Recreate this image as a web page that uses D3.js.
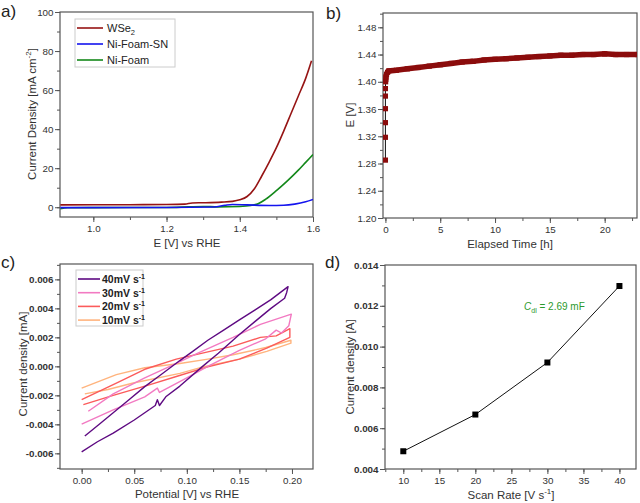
<!DOCTYPE html>
<html><head><meta charset="utf-8">
<script src="https://cdn.jsdelivr.net/npm/d3@7"></script>
<style>body{margin:0;background:#fff}svg{display:block}text{font-family:"Liberation Sans",Arial,sans-serif}</style>
</head><body><svg id="c" width="640" height="503"></svg>
<script>
// ---------- DATA ----------
// Panel a: LSV curves  [E (V vs RHE), J (mA cm^-2)]
const aSeriesNames = ["WSe2", "Ni-Foam-SN", "Ni-Foam"];
const aWSe2 = [[0.91,1.2],[1.0,1.3],[1.1,1.3],[1.2,1.4],[1.25,1.6],[1.27,2.2],[1.3,2.3],[1.35,2.6],[1.38,3.0],[1.40,3.8],[1.42,5.5],[1.44,9.5],[1.46,16],[1.48,23],[1.50,30.5],[1.52,39],[1.54,48],[1.56,57],[1.58,66],[1.596,75]];
const aNiFoamSN = [[0.91,-0.2],[1.2,-0.1],[1.33,0.1],[1.36,1.0],[1.38,1.4],[1.42,1.2],[1.48,0.9],[1.52,1.0],[1.55,1.6],[1.58,2.8],[1.60,4.0]];
const aNiFoam = [[0.91,-0.8],[0.93,-0.3],[1.0,-0.2],[1.2,-0.1],[1.26,0.2],[1.3,0.4],[1.34,0.2],[1.40,0.4],[1.43,0.9],[1.45,1.8],[1.47,4],[1.50,8.5],[1.53,13.5],[1.56,19],[1.58,23],[1.60,27]];
const aXTicks = [1.0,1.2,1.4,1.6];
const aYTicks = [0,20,40,60,80,100];

// Panel b: chronopotentiometry
const bTime = [0,0,0,0,0,0,0.02,0.05,0.1,0.2,0.3,1,2,3,4,5,6,7,8,9,10,11,12,13,14,15,16,17,18,19,20,21,22,23];
const bE = [1.285,1.3185,1.34,1.3605,1.379,1.39,1.40,1.407,1.411,1.414,1.416,1.417,1.419,1.421,1.423,1.425,1.427,1.429,1.430,1.432,1.433,1.434,1.435,1.436,1.437,1.438,1.439,1.439,1.440,1.440,1.441,1.440,1.440,1.440];
const bXTicks = [0,5,10,15,20];
const bYTicks = [1.20,1.24,1.28,1.32,1.36,1.40,1.44,1.48];

// Panel c: CV loops [V, mA]
const cLabels = ["40mV s", "30mV s", "20mV s", "10mV s"];
const c40 = [[0.003,-0.0048],[0.015,-0.0041],[0.03,-0.0032],[0.045,-0.0023],[0.06,-0.0014],[0.075,-0.0006],[0.0934,0.0004],[0.105,0.0010],[0.12,0.0018],[0.135,0.0025],[0.15,0.0032],[0.165,0.0039],[0.18,0.0046],[0.1963,0.0055],[0.195,0.0051],[0.193,0.0047],[0.18,0.0040],[0.165,0.0031],[0.15,0.0022],[0.13,0.0009],[0.115,0.0],[0.0934,-0.00136],[0.08,-0.0021],[0.074,-0.0027],[0.072,-0.0023],[0.07,-0.0027],[0.05,-0.0037],[0.03,-0.0046],[0.015,-0.0052],[0.0,-0.0059]];
const c30 = [[0.0063,-0.0031],[0.03,-0.0019],[0.06,-0.0008],[0.087,0.0001],[0.11,0.0009],[0.144,0.0020],[0.17,0.0029],[0.1994,0.0036],[0.197,0.0028],[0.19,0.0023],[0.185,0.0025],[0.175,0.0019],[0.15,0.0011],[0.12,0.0],[0.10,-0.0008],[0.074,-0.0018],[0.072,-0.0015],[0.06,-0.0021],[0.03,-0.0030],[0.0,-0.00398]];
const c20 = [[0.0,-0.0023],[0.033,-0.00115],[0.06,-0.0002],[0.09,0.0005],[0.12,0.0010],[0.144,0.0014],[0.17,0.0020],[0.185,0.0021],[0.198,0.0026],[0.198,0.0020],[0.176,0.00126],[0.15,0.0005],[0.119,-0.00005],[0.09,-0.0007],[0.065,-0.00126],[0.03,-0.0020],[0.0016,-0.00264]];
const c10 = [[0.0,-0.0015],[0.033,-0.00057],[0.06,-0.0001],[0.0934,0.0002],[0.12,0.0005],[0.144,0.0008],[0.175,0.0013],[0.199,0.0018],[0.199,0.0016],[0.176,0.00103],[0.15,0.0005],[0.112,-0.0001],[0.0934,-0.00048],[0.049,-0.00115],[0.025,-0.0016],[0.003,-0.0019]];
const cXTicks = [0.00,0.05,0.10,0.15,0.20];
const cYTicks = [-0.006,-0.004,-0.002,0.000,0.002,0.004,0.006];

// Panel d: double-layer capacitance
const dRate = [10,20,30,40];
const dJ = [0.00487,0.00667,0.00922,0.01297];
const dXTicks = [10,15,20,25,30,35,40];
const dYTicks = [0.004,0.006,0.008,0.010,0.012,0.014];

// ---------- DRAWING ----------
const svg = d3.select("#c");
const fixMinus = f => v => f(v).replace("\u2212","-");
let clipId = 0;

function panel(o) {
  const x = d3.scaleLinear().domain(o.xd).range([o.l, o.r]);
  const y = d3.scaleLinear().domain(o.yd).range([o.b, o.t]);
  const g = svg.append("g");
  const minorX = d3.range(Math.ceil(o.xd[0] / o.xMinorStep) * o.xMinorStep, o.xd[1] + 1e-9, o.xMinorStep)
    .filter(v => v >= o.xd[0] && v <= o.xd[1]);
  const minorY = d3.range(Math.ceil(o.yd[0] / o.yMinorStep) * o.yMinorStep, o.yd[1] + 1e-9, o.yMinorStep)
    .filter(v => v >= o.yd[0] - 1e-12 && v <= o.yd[1] + 1e-12);
  g.append("g").attr("transform", `translate(0,${o.b})`)
    .call(d3.axisBottom(x).tickValues(minorX).tickSize(3).tickFormat(""))
    .call(s => s.select(".domain").remove());
  g.append("g").attr("transform", `translate(${o.l},0)`)
    .call(d3.axisLeft(y).tickValues(minorY).tickSize(3).tickFormat(""))
    .call(s => s.select(".domain").remove());
  const ax = g.append("g").attr("transform", `translate(0,${o.b})`)
    .call(d3.axisBottom(x).tickValues(o.xTicks).tickSize(5).tickPadding(3).tickFormat(fixMinus(d3.format(o.xFmt))));
  const ay = g.append("g").attr("transform", `translate(${o.l},0)`)
    .call(d3.axisLeft(y).tickValues(o.yTicks).tickSize(5).tickPadding(1.5).tickFormat(fixMinus(d3.format(o.yFmt))));
  [ax, ay].forEach(a => { a.select(".domain").remove(); });
  g.selectAll(".tick line").attr("stroke", "#555");
  ax.selectAll("text").attr("font-size", 9.8).attr("fill", "#333").attr("font-family", "Liberation Sans, Arial");
  ay.selectAll("text").attr("font-size", 9.8).attr("fill", "#333").attr("font-family", "Liberation Sans, Arial")
    .attr("font-weight", o.yBold ? "bold" : "normal");
  g.append("rect").attr("x", o.l).attr("y", o.t).attr("width", o.r - o.l).attr("height", o.b - o.t)
    .attr("fill", "none").attr("stroke", "#555").attr("stroke-width", 1.2);
  const id = "clip" + (clipId++);
  svg.append("clipPath").attr("id", id).append("rect")
    .attr("x", o.l).attr("y", o.t).attr("width", o.r - o.l).attr("height", o.b - o.t);
  const plot = svg.append("g").attr("clip-path", `url(#${id})`);
  return {x, y, plot, g};
}

function label(txt, x, y) {
  svg.append("text").attr("x", x).attr("y", y).attr("font-size", 17).attr("fill", "#222").text(txt);
}
function xTitle(x, y, build) {
  const t = svg.append("text").attr("x", x).attr("y", y).attr("text-anchor", "middle")
    .attr("font-size", 11.5).attr("fill", "#333");
  build(t);
}
function yTitle(x, y, build) {
  const t = svg.append("text").attr("transform", `translate(${x},${y}) rotate(-90)`).attr("text-anchor", "middle")
    .attr("font-size", 11.5).attr("fill", "#333");
  build(t);
}

// ===== Panel a =====
{
  const P = panel({l:60, t:12, r:313, b:217, xd:[0.909,1.6], yd:[-5,100], xTicks:aXTicks, yTicks:aYTicks,
    xMinorStep:0.1, yMinorStep:10, xFmt:".1f", yFmt:"d"});
  const line = d3.line().x(d => P.x(d[0])).y(d => P.y(d[1])).curve(d3.curveMonotoneX);
  const series = [[aNiFoam, "#13881a"], [aNiFoamSN, "#1414ee"], [aWSe2, "#961414"]];
  series.forEach(([d, c]) => P.plot.append("path").attr("d", line(d)).attr("fill", "none").attr("stroke", c).attr("stroke-width", 1.6));
  const lg = svg.append("g");
  lg.append("rect").attr("x", 75).attr("y", 19).attr("width", 100).attr("height", 48).attr("fill", "#fff").attr("stroke", "#ccc");
  const cols = ["#961414", "#1414ee", "#13881a"];
  aSeriesNames.forEach((n, i) => {
    const yy = 28 + i * 16;
    lg.append("line").attr("x1", 77).attr("x2", 103).attr("y1", yy).attr("y2", yy).attr("stroke", cols[i]).attr("stroke-width", 1.6);
    const t = lg.append("text").attr("x", 107).attr("y", yy + 4).attr("font-size", 11).attr("fill", "#222");
    if (n === "WSe2") { t.append("tspan").text("WSe"); t.append("tspan").attr("font-size", 7.5).attr("dy", 3).text("2"); }
    else t.text(n);
  });
  label("a)", 1, 17);
  xTitle(187, 247, t => t.text("E [V] vs RHE"));
  yTitle(36, 114, t => {
    t.append("tspan").text("Current Density [mA cm");
    t.append("tspan").attr("font-size", 8).attr("dy", -5).text("-2");
    t.append("tspan").attr("dy", 5).text("]");
  });
}

// ===== Panel b =====
{
  const P = panel({l:383, t:13, r:637, b:218, xd:[-0.22,22.95], yd:[1.20,1.501], xTicks:bXTicks, yTicks:bYTicks,
    xMinorStep:2.5, yMinorStep:0.02, xFmt:"d", yFmt:".2f"});
  const pts = bTime.map((t, i) => [t, bE[i]]);
  const line = d3.line().x(d => P.x(d[0])).y(d => P.y(d[1]));
  P.plot.append("path").attr("d", line(pts)).attr("fill", "none").attr("stroke", "#111").attr("stroke-width", 1);
  P.plot.append("path").attr("d", line(pts.slice(6))).attr("fill", "none").attr("stroke", "#8b0c0c").attr("stroke-width", 5.5);
  P.plot.selectAll("rect.m").data(pts).join("rect").attr("class", "m")
    .attr("x", d => P.x(d[0]) - 2.6).attr("y", d => P.y(d[1]) - 2.6).attr("width", 5.2).attr("height", 5.2).attr("fill", "#8b0c0c");
  label("b)", 326, 19);
  xTitle(510, 248, t => t.text("Elapsed Time [h]"));
  yTitle(354, 115, t => t.text("E [V]"));
}

// ===== Panel c =====
{
  const P = panel({l:60, t:264, r:313, b:469, xd:[-0.0206,0.22], yd:[-0.00708,0.00706], xTicks:cXTicks, yTicks:cYTicks,
    xMinorStep:0.025, yMinorStep:0.001, xFmt:".2f", yFmt:".3f", yBold:true});
  const line = d3.line().x(d => P.x(d[0])).y(d => P.y(d[1]));
  const cols = ["#5e0a82", "#f27ac2", "#fb5b5b", "#ffb47e"];
  [c10, c20, c30, c40].forEach((d, i) => P.plot.append("path").attr("d", line(d)).attr("fill", "none")
    .attr("stroke", cols[3 - i]).attr("stroke-width", 1.4).attr("stroke-linejoin", "round"));
  const lg = svg.append("g");
  lg.append("rect").attr("x", 76).attr("y", 270).attr("width", 67).attr("height", 56).attr("fill", "#fff").attr("stroke", "#ccc");
  cLabels.forEach((n, i) => {
    const yy = 279 + i * 13.7;
    lg.append("line").attr("x1", 78).attr("x2", 100).attr("y1", yy).attr("y2", yy).attr("stroke", cols[i]).attr("stroke-width", 1.6);
    const t = lg.append("text").attr("x", 102).attr("y", yy + 4).attr("font-size", 10.5).attr("font-weight", "bold").attr("fill", "#222");
    t.append("tspan").text(n);
    t.append("tspan").attr("font-size", 7).attr("dy", -4).text("-1");
  });
  label("c)", 1, 268);
  xTitle(187, 498, t => t.text("Potential [V] vs RHE"));
  yTitle(27, 364, t => t.text("Current density [mA]"));
}

// ===== Panel d =====
{
  const P = panel({l:385, t:265, r:636, b:469, xd:[7.46,42.3], yd:[0.004,0.014], xTicks:dXTicks, yTicks:dYTicks,
    xMinorStep:2.5, yMinorStep:0.001, xFmt:"d", yFmt:".3f", yBold:true});
  const pts = dRate.map((r, i) => [r, dJ[i]]);
  const line = d3.line().x(d => P.x(d[0])).y(d => P.y(d[1]));
  P.plot.append("path").attr("d", line(pts)).attr("fill", "none").attr("stroke", "#111").attr("stroke-width", 1);
  P.plot.selectAll("rect.m").data(pts).join("rect").attr("class", "m")
    .attr("x", d => P.x(d[0]) - 3).attr("y", d => P.y(d[1]) - 3).attr("width", 6).attr("height", 6).attr("fill", "#000");
  const ann = svg.append("text").attr("x", 524).attr("y", 310).attr("font-size", 10).attr("fill", "#2c9a2c");
  ann.append("tspan").attr("font-style", "italic").text("C");
  ann.append("tspan").attr("font-size", 7).attr("dy", 3).text("dl");
  ann.append("tspan").attr("dy", -3).text(" = 2.69 mF");
  label("d)", 325, 268);
  xTitle(511, 499, t => {
    t.append("tspan").text("Scan Rate [V s");
    t.append("tspan").attr("font-size", 8).attr("dy", -5).text("-1");
    t.append("tspan").attr("dy", 5).text("]");
  });
  yTitle(354, 367, t => t.text("Current density [A]"));
}
</script></body></html>
